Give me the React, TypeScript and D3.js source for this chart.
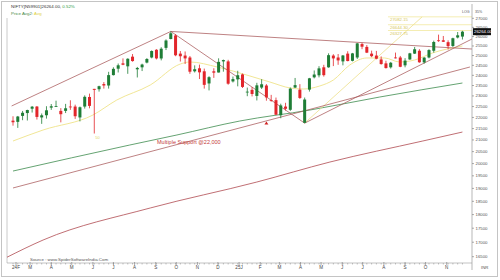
import React from "react";
import * as d3 from "d3";

const W = 500;
const H = 280;

// Weekly candles, first week starting Monday 2024-02-05
const FIRST_WEEK = "2024-02-05";
const opens = [21854,21800,22070,22200,22400,22500,22000,22100,22450,22500,22300,22300,22500,22500,22000,22500,22950,23337,23320,23570,23500,24010,24330,24600,24450,24943,24300,24400,24640,24900,25300,24850,25400,25870,26060,25100,25000,24900,24200,24350,24200,23600,24200,24140,24700,24700,23700,23800,24045,23200,23290,23000,23400,23500,22800,22800,22100,22500,22350,23400,23300,21758,23300,23900,24000,24400,24400,25000,24900,24700,25100,24730,24900,25600,25450,25100,25000,24800,24600,24400,24900,24900,24500,24800,25100,25250,24650,24900,25250,25800,25800,25700,25500,25950,26000];
const highs = [22053,22068,22297,22353,22526,22526,22180,22516,22619,22775,22427,22625,22794,22588,22502,23026,23110,23338,23490,23667,24174,24401,24592,24854,24861,25078,24419,24584,24867,25268,25334,25433,25850,26277,26134,25234,25212,24978,24498,24537,24336,23956,24354,24857,24792,24781,23939,24226,24089,23400,23426,23632,23807,23569,23050,22922,22633,22676,23403,23869,23565,22923,23872,24242,24457,24526,25116,25070,25079,25029,25223,25137,25654,25669,25548,25255,25242,24956,24734,24673,25154,24980,24865,25139,25448,25332,24920,25330,25781,26104,26033,25800,25940,26246,26310];
const lows = [21629,21530,21875,21861,22224,21905,21710,21947,22346,22480,21777,22200,22348,21932,21821,22405,22418,21281,23206,23350,23350,23992,24141,24508,24074,24686,23893,24212,24600,24857,24801,24753,25286,25850,24966,24694,24568,24074,24140,23816,23350,23263,23873,24140,24180,23537,23647,23460,23379,22987,22976,22786,23330,22774,22725,22105,21964,22314,22300,23380,22857,21743,23207,23847,23898,23936,24378,24462,24526,24500,24704,24700,24824,25331,25129,24918,24806,24535,24337,24338,24850,24405,24400,24780,25080,24630,24588,24855,25152,25718,25711,25318,25448,25900,25842];
const closes = [21783,22041,22213,22339,22494,22023,22097,22327,22514,22519,22147,22420,22476,22055,22467,22957,22531,23290,23466,23501,24010,24323,24502,24530,24834,24717,24367,24541,24823,25235,24852,25356,25790,26178,25014,24964,24854,24180,24304,24148,23532,23907,24131,24677,24768,23588,23813,24005,23432,23203,23092,23508,23560,22929,22796,22125,22553,22397,23350,23519,22904,22829,23852,24039,24347,24008,25020,24853,24751,25003,24718,25112,25637,25461,25150,24968,24837,24565,24363,24631,24870,24427,24741,25114,25327,24655,24894,25285,25710,25795,25722,25492,25910,26068,26264];

// Axis labels
const monthDates = ["2024-02-01","2024-03-01","2024-04-01","2024-05-01","2024-06-01","2024-07-01","2024-08-01","2024-09-01","2024-10-01","2024-11-01","2024-12-01","2025-01-01","2025-02-01","2025-03-01","2025-04-01","2025-05-01","2025-06-01","2025-07-01","2025-08-01","2025-09-01","2025-10-01","2025-11-01"];
const monthLabels = ["24F","M","A","M","J","J","A","S","O","N","D","25J","F","M","A","M","J","J","A","S","O","N"];
const priceTicks = [27000,26500,26000,25500,25000,24500,24000,23500,23000,22500,22000,21500,21000,20500,20000,19500,19000,18500,18000,17500,17000,16500];

// Moving averages
const yellowAvgDates = ["2024-02-05","2024-03-20","2024-06-01","2024-07-06","2024-08-24","2024-10-07","2024-10-21","2024-11-30","2025-01-17","2025-02-15","2025-03-17","2025-04-05","2025-04-29","2025-05-19","2025-06-12","2025-07-07","2025-08-02","2025-08-24","2025-09-15","2025-10-11","2025-11-24"];
const yellowAvgValues = [20955,21436,22110,22807,23525,24567,24670,24416,23965,23671,23379,23331,23476,23768,24516,24875,24875,24670,24772,25132,25499];
const greenAvgDates = ["2024-02-05","2024-07-25","2024-10-02","2025-01-02","2025-04-15","2025-07-26","2025-11-24"];
const greenAvgValues = [19694,20782,21217,21838,22340,22948,23622];
const maroonAvgDates = ["2024-01-27","2024-03-20","2024-08-24","2025-01-27","2025-05-14","2025-09-27","2025-11-24"];
const maroonAvgValues = [16480,17078,18247,19252,20064,20955,21346];

// Trend lines: start date/value, end date/value
const trendStartDates = ["2024-02-03","2024-09-23","2024-09-23","2024-02-05","2025-04-07"];
const trendStartValues = [22527,26277,26277,19017,21743];
const trendEndDates = ["2024-09-23","2025-12-08","2025-04-07","2025-12-05","2025-12-08"];
const trendEndValues = [26277,25340,21743,24416,25870];

// Fibonacci projection
const fibLabels = ["27082.15","26644.30","26327.75"];
const fibValues = [27082.15,26644.30,26327.75];
const fibStartDate = "2025-08-07";
const fibRayDates = ["2025-04-07","2025-09-26"];
const fibRayValues = [21743,27082.15];

const supportMarkDate = "2025-02-10";
const supportMarkValue = 21730;

export default function App() {
  const parse = d3.timeParse("%Y-%m-%d");
  const start = parse(FIRST_WEEK)!;
  const weeks = d3.timeMonday.range(start, d3.timeDay.offset(start, closes.length * 7));

  const left = 7, right = 472, top = 4, bottom = 263;
  const x = d3.scaleTime().domain([start, parse("2025-12-08")!]).range([13, right]);
  const y = d3.scaleLog().domain([27000, 16500]).range([18.3, 256.7]);

  const green = "#1f7d36";
  const red = "#e2262b";
  const maroon = "#a8585a";

  const curve = (ds: string[], vs: number[]) =>
    d3.line<number>().x((_, i) => x(parse(ds[i])!)).y((v) => y(v)).curve(d3.curveMonotoneX)(vs) || "";

  const last = closes[closes.length - 1];
  const lastWeek = weeks[weeks.length - 1];
  const lowIdx = lows.indexOf(d3.min(lows)!);
  const tickFont = "Liberation Sans, Arial, sans-serif";

  return (
    <svg width={W} height={H} style={{ position: "absolute", left: 0, top: 0, background: "#fff" }} fontFamily={tickFont}>
      <defs>
        <clipPath id="plot">
          <rect x={left} y={top} width={right - left} height={bottom - top} />
        </clipPath>
      </defs>
      <rect x={1.5} y={1.5} width={496} height={275} fill="#fff" stroke="#c4c4c4" strokeWidth={1} />
      <line x1={left} x2={left} y1={18} y2={bottom} stroke="#bdbdbd" strokeWidth={0.8} />

      {/* title */}
      <text x={11} y={8} fontSize={4.4} fill="#333">
        NIFTY[N59901]{last.toFixed(2)}, <tspan fill="#2e9a3e">0.52%</tspan>
      </text>
      <text x={11} y={14.5} fontSize={4.4} fill="#4a8a4a">
        Price Avg2: <tspan fill="#e0d040">Avg</tspan>
      </text>
      <text x={462} y={13} fontSize={3.6} fill="#555">LOG</text>
      <text x={475} y={13} fontSize={3.6} fill="#555">35%</text>

      <g clipPath="url(#plot)">
        {/* MAs */}
        <path d={curve(maroonAvgDates, maroonAvgValues)} fill="none" stroke="#b04a50" strokeWidth={0.8} />
        <path d={curve(greenAvgDates, greenAvgValues)} fill="none" stroke="#3e8c4e" strokeWidth={0.8} />
        <path d={curve(yellowAvgDates, yellowAvgValues)} fill="none" stroke="#efe38a" strokeWidth={0.9} />

        {/* fib levels */}
        {fibValues.map((v, i) => (
          <line key={"f" + i} x1={x(parse(fibStartDate)!)} x2={right} y1={y(v)} y2={y(v)} stroke="#f1e9a0" strokeWidth={0.8} />
        ))}
        <line x1={x(parse(fibRayDates[0])!)} y1={y(fibRayValues[0])} x2={x(parse(fibRayDates[1])!)} y2={y(fibRayValues[1])} stroke="#eee08a" strokeWidth={0.8} />

        {/* trend lines */}
        {trendStartDates.map((d, i) => (
          <line key={"t" + i} x1={x(parse(d)!)} y1={y(trendStartValues[i])} x2={x(parse(trendEndDates[i])!)} y2={y(trendEndValues[i])} stroke={maroon} strokeWidth={0.75} />
        ))}

        {/* candles */}
        {weeks.map((w, i) => {
          const o = opens[i], c = closes[i];
          const up = c >= o;
          const col = up ? green : red;
          const cx = x(w);
          const yt = y(Math.max(o, c));
          const yb = y(Math.min(o, c));
          return (
            <g key={i}>
              <line x1={cx} x2={cx} y1={y(highs[i])} y2={y(lows[i])} stroke={col} strokeWidth={0.8} />
              <rect x={cx - 1.5} y={yt} width={3} height={Math.max(0.8, yb - yt)} fill={col} />
            </g>
          );
        })}

        {/* support mark */}
        <path
          d={`M${x(parse(supportMarkDate)!) - 2},${y(supportMarkValue) + 1.2}L${x(parse(supportMarkDate)!) + 2},${y(supportMarkValue) + 1.2}L${x(parse(supportMarkDate)!)},${y(supportMarkValue) - 1.8}Z`}
          fill="#d02020"
        />
      </g>

      {fibValues.map((v, i) => (
        <text key={"fl" + i} x={390} y={y(v) + 4} fontSize={4.3} fill="#d6c65a">{fibLabels[i]}</text>
      ))}
      <text x={x(weeks[lowIdx]) + 1} y={y(lows[lowIdx]) + 5.5} fontSize={4} fill="#e2d76a">50</text>
      <text x={157} y={144} fontSize={5.5} fill="#c33a3a">Multiple Support @22,000</text>
      <text x={30} y={261} fontSize={4.4} fill="#555">Source : www.SpiderSoftwareIndia.Com</text>

      {/* x axis */}
      <line x1={left} x2={right} y1={bottom} y2={bottom} stroke="#9a9a9a" strokeWidth={0.6} />
      {weeks.map((w, i) => (
        <line key={"wt" + i} x1={x(w)} x2={x(w)} y1={bottom} y2={bottom + 1.5} stroke="#888" strokeWidth={0.5} />
      ))}
      {monthDates.map((d, i) => {
        const px = Math.max(16, x(parse(d)!));
        return (
          <g key={"m" + i}>
            <line x1={px} x2={px} y1={bottom - 1} y2={bottom + 2} stroke="#777" strokeWidth={0.6} />
            <text x={px} y={269} fontSize={4.6} textAnchor="middle" fill="#444">{monthLabels[i]}</text>
          </g>
        );
      })}

      {/* right axis */}
      <line x1={right} x2={right} y1={top} y2={270} stroke="#9a9a9a" strokeWidth={0.7} />
      {priceTicks.map((t) => (
        <g key={"p" + t}>
          <line x1={right} x2={right + 2} y1={y(t)} y2={y(t)} stroke="#777" strokeWidth={0.6} />
          <text x={right + 3.5} y={y(t) + 1.5} fontSize={4.3} fill="#555">{t}</text>
        </g>
      ))}
      <rect x={right + 1} y={y(last) - 3.5} width={18} height={7} fill="#111" />
      <text x={right + 2} y={y(last) + 1.5} fontSize={4.3} fill="#fff">{last.toFixed(2)}</text>
      <text x={481} y={269} fontSize={4.3} fill="#555">INR</text>
      <line x1={x(lastWeek)} x2={x(lastWeek)} y1={0} y2={0} stroke="none" />
    </svg>
  );
}
